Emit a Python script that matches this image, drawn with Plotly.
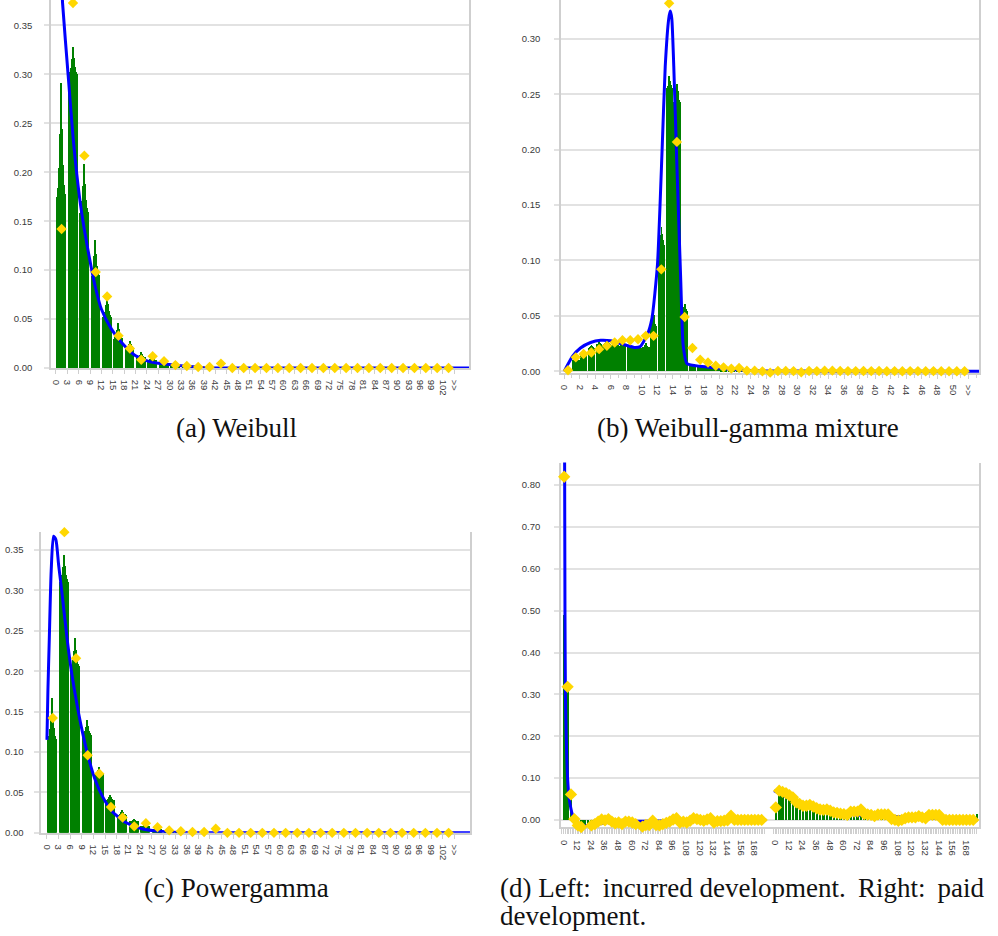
import plotly.graph_objects as go

# ---------------- Panel (a) Weibull ----------------
A_TICK_VALS = [0, 3, 6, 9, 12, 15, 18, 21, 24, 27, 30, 33, 36, 39, 42, 45, 48, 51, 54, 57,
               60, 63, 66, 69, 72, 75, 78, 81, 84, 87, 90, 93, 96, 99, 102, 105]
A_TICK_TEXT = ["0", "3", "6", "9", "12", "15", "18", "21", "24", "27", "30", "33", "36", "39",
               "42", "45", "48", "51", "54", "57", "60", "63", "66", "69", "72", "75", "78", "81",
               "84", "87", "90", "93", "96", "99", "102", ">>"]
A_BAR_BODY = [0.175, 0.300, 0.158, 0.094, 0.052, 0.030, 0.020, 0.011, 0.008, 0.004, 0.002, 0.001,
              0, 0, 0, 0, 0, 0, 0, 0, 0, 0, 0, 0, 0, 0, 0, 0, 0, 0, 0, 0, 0, 0, 0]
A_BAR_PEAK = [0.291, 0.328, 0.208, 0.131, 0.075, 0.046, 0.028, 0.016, 0.011, 0.006, 0.003, 0.0015,
              0, 0, 0, 0, 0, 0, 0, 0, 0, 0, 0, 0, 0, 0, 0, 0, 0, 0, 0, 0, 0, 0, 0]
A_OBSERVED = [0.142, 0.373, 0.217, 0.098, 0.073, 0.033, 0.020, 0.0085, 0.012, 0.007, 0.003, 0.002,
              0.001, 0.001, 0.0045, 0, 0, 0, 0, 0, 0, 0, 0, 0, 0, 0, 0, 0, 0, 0, 0, 0, 0, 0, 0]
A_FIT_X = [1.6, 1.75, 3.25, 4.56, 6.3, 7.6, 9.2, 10.5, 12.0, 14.6, 17.3, 20.8, 25.2, 31.3, 38.3,
           45, 60, 80, 109]
A_FIT_Y = [0.39, 0.373, 0.298, 0.234, 0.172, 0.139, 0.105, 0.081, 0.060, 0.040, 0.026, 0.013,
           0.006, 0.003, 0.0005, 0.0, 0.0, 0.0, 0.0]

# ---------------- Panel (b) Weibull-gamma mixture ----------------
B_TICK_VALS = [0, 2, 4, 6, 8, 10, 12, 14, 16, 18, 20, 22, 24, 26, 28, 30, 32, 34, 36, 38, 40,
               42, 44, 46, 48, 50, 52]
B_TICK_TEXT = ["0", "2", "4", "6", "8", "10", "12", "14", "16", "18", "20", "22", "24", "26",
               "28", "30", "32", "34", "36", "38", "40", "42", "44", "46", "48", "50", ">>"]
B_BAR_BODY = [0, 0.010, 0.016, 0.021, 0.024, 0.025, 0.024, 0.023, 0.022, 0.021,
              0.022, 0.040, 0.114, 0.255, 0.243, 0.054, 0.006, 0.0045, 0.0035, 0.0025,
              0.0015, 0.001, 0.0008, 0, 0, 0, 0, 0, 0, 0,
              0, 0, 0, 0, 0, 0, 0, 0, 0, 0,
              0, 0, 0, 0, 0, 0, 0, 0, 0, 0,
              0, 0]
B_BAR_PEAK = [0, 0.013, 0.019, 0.024, 0.027, 0.027, 0.026, 0.025, 0.024, 0.022,
              0.026, 0.051, 0.130, 0.266, 0.259, 0.061, 0.0065, 0.005, 0.004, 0.003,
              0.002, 0.0012, 0.001, 0, 0, 0, 0, 0, 0, 0,
              0, 0, 0, 0, 0, 0, 0, 0, 0, 0,
              0, 0, 0, 0, 0, 0, 0, 0, 0, 0,
              0, 0]
B_OBSERVED = [0.001, 0.0126, 0.0156, 0.017, 0.020, 0.023, 0.026, 0.028, 0.028, 0.029,
              0.032, 0.032, 0.092, 0.332, 0.207, 0.049, 0.021, 0.0105, 0.008, 0.005,
              0.0036, 0.0024, 0.003, 0.0006, 0.0006, 0.0, -0.0012, 0.0003, 0.0004, 0.0002,
              -0.0008, 0.0003, 0.0002, 0.0005, 0.0006, 0.0003, 0.0002, 0.0002, 0.0003, 0.0002,
              0.0003, 0.0001, 0.0002, 0.0001, 0.0002, 0.0002, 0.0001, 0.0002, 0.0001, 0.0001,
              0.0001, 0.0001]
B_FIT_X = [0, 1.07, 2.1, 3.4, 4.7, 6.0, 7.3, 9.0, 9.8, 10.7, 11.3, 12.0, 12.6, 13.0, 13.45,
           13.65, 13.85, 14.1, 14.5, 15.0, 15.3, 15.8, 17.5, 19.7, 22.6, 26, 30, 40, 53.4]
B_FIT_Y = [0, 0.0135, 0.021, 0.026, 0.028, 0.0275, 0.025, 0.0216, 0.0225, 0.033, 0.048, 0.096,
           0.200, 0.275, 0.318, 0.325, 0.318, 0.275, 0.186, 0.081, 0.024, 0.007, 0.0045, 0.003,
           0.0012, 0.0004, 0.0002, 0.0001, 0.0001]

# ---------------- Panel (c) Powergamma ----------------
C_TICK_VALS = A_TICK_VALS
C_TICK_TEXT = A_TICK_TEXT
C_BAR_BODY = [0.115, 0.310, 0.205, 0.121, 0.072, 0.040, 0.022, 0.014, 0.008, 0.004, 0.002, 0.001,
              0, 0, 0, 0, 0, 0, 0, 0, 0, 0, 0, 0, 0, 0, 0, 0, 0, 0, 0, 0, 0, 0, 0]
C_BAR_PEAK = [0.167, 0.343, 0.241, 0.139, 0.081, 0.047, 0.028, 0.017, 0.010, 0.006, 0.003, 0.0015,
              0, 0, 0, 0, 0, 0, 0, 0, 0, 0, 0, 0, 0, 0, 0, 0, 0, 0, 0, 0, 0, 0, 0]
C_OBSERVED = [0.142, 0.372, 0.216, 0.096, 0.073, 0.032, 0.019, 0.008, 0.012, 0.007, 0.003, 0.002,
              0.001, 0.001, 0.005, 0, 0, 0, 0, 0, 0, 0, 0, 0, 0, 0, 0, 0, 0, 0, 0, 0, 0, 0, 0]
C_FIT_X = [0, 0.26, 0.6, 1.1, 1.7, 2.3, 3.0, 3.9, 5.1, 6.4, 7.7, 9.0, 10.7, 12.4, 14.2, 16.7,
           20.2, 24.4, 31.3, 40, 50, 70, 90, 109]
C_FIT_Y = [0.115, 0.177, 0.238, 0.324, 0.367, 0.363, 0.332, 0.296, 0.244, 0.197, 0.160, 0.128,
           0.093, 0.066, 0.046, 0.027, 0.013, 0.005, 0.001, 0, 0, 0, 0, 0]

# ---------------- Panel (d) incurred (left) / paid (right) ----------------
D_MONTHS = [0, 3, 6, 9, 12, 15, 18, 21, 24, 27, 30, 33, 36, 39, 42, 45, 48, 51, 54, 57,
            60, 63, 66, 69, 72, 75, 78, 81, 84, 87, 90, 93, 96, 99, 102, 105, 108, 111, 114, 117,
            120, 123, 126, 129, 132, 135, 138, 141, 144, 147, 150, 153, 156, 159, 162, 165, 168,
            171, 174, 177]
D_TICK_VALS = [0, 12, 24, 36, 48, 60, 72, 84, 96, 108, 120, 132, 144, 156, 168]
D_TICK_TEXT = ["0", "12", "24", "36", "48", "60", "72", "84", "96", "108", "120", "132", "144",
               "156", "168"]
D_LEFT_BARS = [0.49, 0.33, 0.05, 0.0, -0.008, -0.010, -0.010, -0.010, -0.009, -0.008,
               -0.006, -0.004, -0.003, -0.002, -0.002, 0, 0, 0, 0, 0,
               0, 0, 0, 0, 0, 0, 0, 0, 0, 0, 0, 0, 0, 0, 0, 0, 0, 0, 0, 0,
               0, 0, 0, 0, 0, 0, 0, 0, 0, 0, 0, 0, 0, 0, 0, 0, 0, 0, 0, 0]
D_LEFT_OBSERVED = [0.82, 0.318, 0.061, 0.002, -0.013, -0.017, -0.02, -0.02, -0.013, -0.01,
                   -0.004, 0.001, -0.001, 0.002, -0.004, -0.008, -0.006, -0.01, -0.004, -0.004,
                   -0.006, -0.01, -0.02, -0.016, -0.012, -0.012, -0.002, -0.012, -0.013, -0.01,
                   -0.007, -0.004, 0.001, 0.004, -0.006, -0.004, -0.006, -0.002, 0.004, 0.002,
                   0, -0.002, 0.001, 0.004, -0.006, -0.003, -0.003, -0.002, -0.001, 0.01,
                   0, 0, 0, 0, 0, 0, 0, 0, 0, None]
D_LEFT_FIT_X = [0.6, 1.2, 1.6, 2.3, 3.5, 5, 8, 11, 15, 21, 30, 39, 53, 70, 100, 130, 178.5]
D_LEFT_FIT_Y = [1.2, 0.5, 0.3, 0.2, 0.1, 0.05, 0.01, -0.01, -0.015, -0.013, -0.01, -0.006,
                -0.003, -0.003, -0.002, 0.0, 0.0]
D_RIGHT_BARS = [0.025, 0.065, 0.062, 0.060, 0.056, 0.050, 0.045, 0.040, 0.036, 0.033,
                0.031, 0.029, 0.026, 0.024, 0.022, 0.021, 0.019, 0.017, 0.015, 0.014,
                0.013, 0.012, 0.013, 0.013, 0.013, 0.012, 0.011, 0.010, 0.009, 0.009,
                0.010, 0.010, 0.010, 0.009, 0.004, 0.003, 0.002, 0.002, 0.003, 0.004,
                0.004, 0.004, 0.005, 0.004, 0.003, 0.006, 0.006, 0.006, 0.005, 0.0,
                0, 0, 0, 0, 0, 0, 0, 0, 0, 0.015]
D_RIGHT_OBSERVED = [0.03, 0.07, 0.067, 0.064, 0.059, 0.054, 0.042, 0.038, 0.034, 0.034,
                    0.036, 0.032, 0.028, 0.025, 0.024, 0.025, 0.022, 0.018, 0.017, 0.015,
                    0.014, 0.012, 0.02, 0.02, 0.02, 0.025, 0.014, 0.013, 0.012, 0.009,
                    0.013, 0.013, 0.013, 0.013, 0.002, 0, -0.002, 0, 0.004, 0.006,
                    0.006, 0.006, 0.009, 0.006, 0.004, 0.012, 0.012, 0.012, 0.012,
                    0, 0, 0, 0, 0, 0, 0, 0, 0, 0, None]
D_RIGHT_FIT_X = [-1, 5, 14, 28.5, 43, 58, 72, 87, 102, 116, 131, 146, 161, 178.5]
D_RIGHT_FIT_Y = [0.07, 0.062, 0.05, 0.034, 0.022, 0.014, 0.012, 0.01, 0.009, 0.006, 0.006,
                 0.004, 0.002, 0]

T = "\u2009"
CAPTIONS = ["(a) Weibull", "(b) Weibull-gamma mixture", "(c) Powergamma",
            "(d) Left:" + T + " incurred development." + T + " Right:" + T + " paid",
            "development."]

# ---------------- styling ----------------
W, H = 998, 936
GREEN = "#008000"
BLUE = "#0000FF"
GOLD = "#FFD700"
GRID = "#e2e2e2"
AXIS = "#cfcfcf"
TICKFONT = dict(family="Liberation Sans, Arial, sans-serif", size=9.5, color="#3a3a3a")
CAPFONT = dict(family="Liberation Serif, Times New Roman, serif", size=27, color="#111111")
PROFILE = [0.0, 0.08, 0.25, 0.55, 1.0, 0.6, 0.28, 0.1, 0.02]
D_RIGHT_SHIFT = 186.5


def jagged(centers, width, body, peak):
    n = len(PROFILE)
    step = width / n
    xs, ys, ws = [], [], []
    for c, b, p in zip(centers, body, peak):
        if p <= 0:
            continue
        for j, f in enumerate(PROFILE):
            xs.append(c - width / 2 + step * (j + 0.5))
            ys.append(b + (p - b) * f)
            ws.append(step * 1.04)
    return xs, ys, ws


def px_x(a, b):
    return [a / W, b / W]


def px_y(top, bottom):
    return [1 - bottom / H, 1 - top / H]


fig = go.Figure()
MK = dict(symbol="diamond", size=8, color=GOLD, line=dict(width=0))

# panel a
a_centers = [(A_TICK_VALS[i] + A_TICK_VALS[i + 1]) / 2 for i in range(len(A_BAR_BODY))]
xs, ys, ws = jagged([c - 0.1 for c in a_centers], 2.3, A_BAR_BODY, A_BAR_PEAK)
fig.add_trace(go.Bar(x=xs, y=ys, width=ws, marker=dict(color=GREEN, line=dict(width=0)),
                     xaxis="x", yaxis="y"))
fig.add_trace(go.Scatter(x=A_FIT_X, y=A_FIT_Y, mode="lines",
                         line=dict(color=BLUE, width=3, shape="spline", smoothing=0.6),
                         xaxis="x", yaxis="y"))
fig.add_trace(go.Scatter(x=a_centers, y=A_OBSERVED, mode="markers", cliponaxis=False,
                         marker=MK, xaxis="x", yaxis="y"))

# panel b
b_centers = [(B_TICK_VALS[0] + i + 0.5) for i in range(len(B_BAR_BODY))]
xs, ys, ws = jagged(b_centers, 0.82, B_BAR_BODY, B_BAR_PEAK)
fig.add_trace(go.Bar(x=xs, y=ys, width=ws, marker=dict(color=GREEN, line=dict(width=0)),
                     xaxis="x2", yaxis="y2"))
fig.add_trace(go.Scatter(x=B_FIT_X, y=B_FIT_Y, mode="lines",
                         line=dict(color=BLUE, width=3, shape="spline", smoothing=0.5),
                         xaxis="x2", yaxis="y2"))
fig.add_trace(go.Scatter(x=b_centers, y=B_OBSERVED, mode="markers", cliponaxis=False,
                         marker=MK, xaxis="x2", yaxis="y2"))

# panel c
c_centers = [(C_TICK_VALS[i] + C_TICK_VALS[i + 1]) / 2 for i in range(len(C_BAR_BODY))]
xs, ys, ws = jagged([c - 0.1 for c in c_centers], 2.3, C_BAR_BODY, C_BAR_PEAK)
fig.add_trace(go.Bar(x=xs, y=ys, width=ws, marker=dict(color=GREEN, line=dict(width=0)),
                     xaxis="x3", yaxis="y3"))
fig.add_trace(go.Scatter(x=C_FIT_X, y=C_FIT_Y, mode="lines",
                         line=dict(color=BLUE, width=3, shape="spline", smoothing=0.6),
                         xaxis="x3", yaxis="y3"))
fig.add_trace(go.Scatter(x=c_centers, y=C_OBSERVED, mode="markers", cliponaxis=False,
                         marker=MK, xaxis="x3", yaxis="y3"))

# panel d
d_left_x = [m + 0.5 for m in D_MONTHS]
d_right_x = [m + 0.5 + D_RIGHT_SHIFT for m in D_MONTHS]
fig.add_trace(go.Bar(x=d_left_x + d_right_x, y=D_LEFT_BARS + D_RIGHT_BARS, width=2.2,
                     marker=dict(color=GREEN, line=dict(width=0)), xaxis="x4", yaxis="y4"))
fig.add_trace(go.Scatter(x=D_LEFT_FIT_X, y=D_LEFT_FIT_Y, mode="lines",
                         line=dict(color=BLUE, width=3, shape="spline", smoothing=0.5),
                         xaxis="x4", yaxis="y4"))
fig.add_trace(go.Scatter(x=[v + D_RIGHT_SHIFT for v in D_RIGHT_FIT_X], y=D_RIGHT_FIT_Y,
                         mode="lines",
                         line=dict(color=BLUE, width=3.2, shape="spline", smoothing=0.5),
                         xaxis="x4", yaxis="y4"))
fig.add_trace(go.Scatter(x=d_left_x + d_right_x, y=D_LEFT_OBSERVED + D_RIGHT_OBSERVED,
                         mode="markers", cliponaxis=False,
                         marker=dict(symbol="diamond", size=9.5, color=GOLD, line=dict(width=0)),
                         xaxis="x4", yaxis="y4"))


def xax(domain, rng, tickvals, ticktext, minor=None, standoff=4, ticklen=4):
    d = dict(domain=domain, range=rng, tickmode="array", tickvals=tickvals, ticktext=ticktext,
             tickangle=90, ticks="outside", ticklen=ticklen, tickcolor=AXIS, tickwidth=1,
             showline=True, linecolor=AXIS, linewidth=1.5, showgrid=False, zeroline=False,
             tickfont=TICKFONT, ticklabelstandoff=standoff, fixedrange=True,
             layer="below traces")
    if minor:
        d["minor"] = minor
    return d


def yax(domain, rng, tickvals, anchor, standoff):
    return dict(domain=domain, range=rng, tickmode="array", tickvals=tickvals,
                tickformat=".2f", ticks="outside", ticklen=5, tickcolor=GRID, tickwidth=1.5,
                showgrid=True, gridcolor=GRID, gridwidth=1.5, zeroline=False,
                showline=True, mirror=True, linecolor=AXIS, linewidth=1.5,
                tickfont=TICKFONT, ticklabelstandoff=standoff, anchor=anchor, fixedrange=True,
                layer="below traces")


Y05_35 = [0, 0.05, 0.10, 0.15, 0.20, 0.25, 0.30, 0.35]
Y05_30 = [0, 0.05, 0.10, 0.15, 0.20, 0.25, 0.30]
Y10_80 = [0, 0.1, 0.2, 0.3, 0.4, 0.5, 0.6, 0.7, 0.8]

d_tick_vals = D_TICK_VALS + [v + D_RIGHT_SHIFT for v in D_TICK_VALS]
d_minor_vals = ([-1.5 + 1.5 * k for k in range(120)] +
                [D_RIGHT_SHIFT - 1.5 + 1.5 * k for k in range(120)])

fig.update_layout(
    width=W, height=H, margin=dict(l=0, r=0, t=0, b=0),
    paper_bgcolor="white", plot_bgcolor="white", showlegend=False, barmode="overlay",
    bargap=0,
    xaxis=xax(px_x(49, 468), [-1.32, 108.9], A_TICK_VALS, A_TICK_TEXT) | dict(anchor="y"),
    yaxis=yax(px_y(0, 370), [0, 0.376], Y05_35, "x", 10),
    xaxis2=xax(px_x(560, 979), [-0.42, 53.36], B_TICK_VALS, B_TICK_TEXT,
               minor=dict(tickmode="linear", tick0=0, dtick=1, ticks="outside", ticklen=3,
                          tickcolor=AXIS)) | dict(anchor="y2"),
    yaxis2=yax(px_y(0, 375), [-0.0015, 0.335], Y05_30, "x2", 12),
    xaxis3=xax(px_x(39.3, 469.3), [-1.47, 109.1], C_TICK_VALS, C_TICK_TEXT) | dict(anchor="y3"),
    yaxis3=yax(px_y(535, 837.3), [0, 0.372], Y05_35, "x3", 9),
    xaxis4=xax(px_x(560, 979), [-2.4, 366.1], d_tick_vals, D_TICK_TEXT + D_TICK_TEXT,
               minor=dict(tickmode="array", tickvals=d_minor_vals, ticks="outside", ticklen=5,
                          tickcolor=AXIS, tickwidth=1), standoff=5) | dict(anchor="y4"),
    yaxis4=yax(px_y(465, 831.7), [-0.0175, 0.854], Y10_80, "x4", 12),
)

# captions
fig.add_annotation(x=235 / W, y=1 - 430 / H, xref="paper", yref="paper", text=CAPTIONS[0],
                   showarrow=False, font=CAPFONT, xanchor="center", yanchor="middle")
fig.add_annotation(x=747 / W, y=1 - 430 / H, xref="paper", yref="paper", text=CAPTIONS[1],
                   showarrow=False, font=CAPFONT, xanchor="center", yanchor="middle")
fig.add_annotation(x=234.5 / W, y=1 - 893 / H, xref="paper", yref="paper", text=CAPTIONS[2],
                   showarrow=False, font=CAPFONT, xanchor="center", yanchor="middle")
fig.add_annotation(x=497 / W, y=1 - 893 / H, xref="paper", yref="paper", text=CAPTIONS[3],
                   showarrow=False, font=CAPFONT, xanchor="left", yanchor="middle")
fig.add_annotation(x=497 / W, y=1 - 921 / H, xref="paper", yref="paper", text=CAPTIONS[4],
                   showarrow=False, font=CAPFONT, xanchor="left", yanchor="middle")

fig.write_html("out.html")
